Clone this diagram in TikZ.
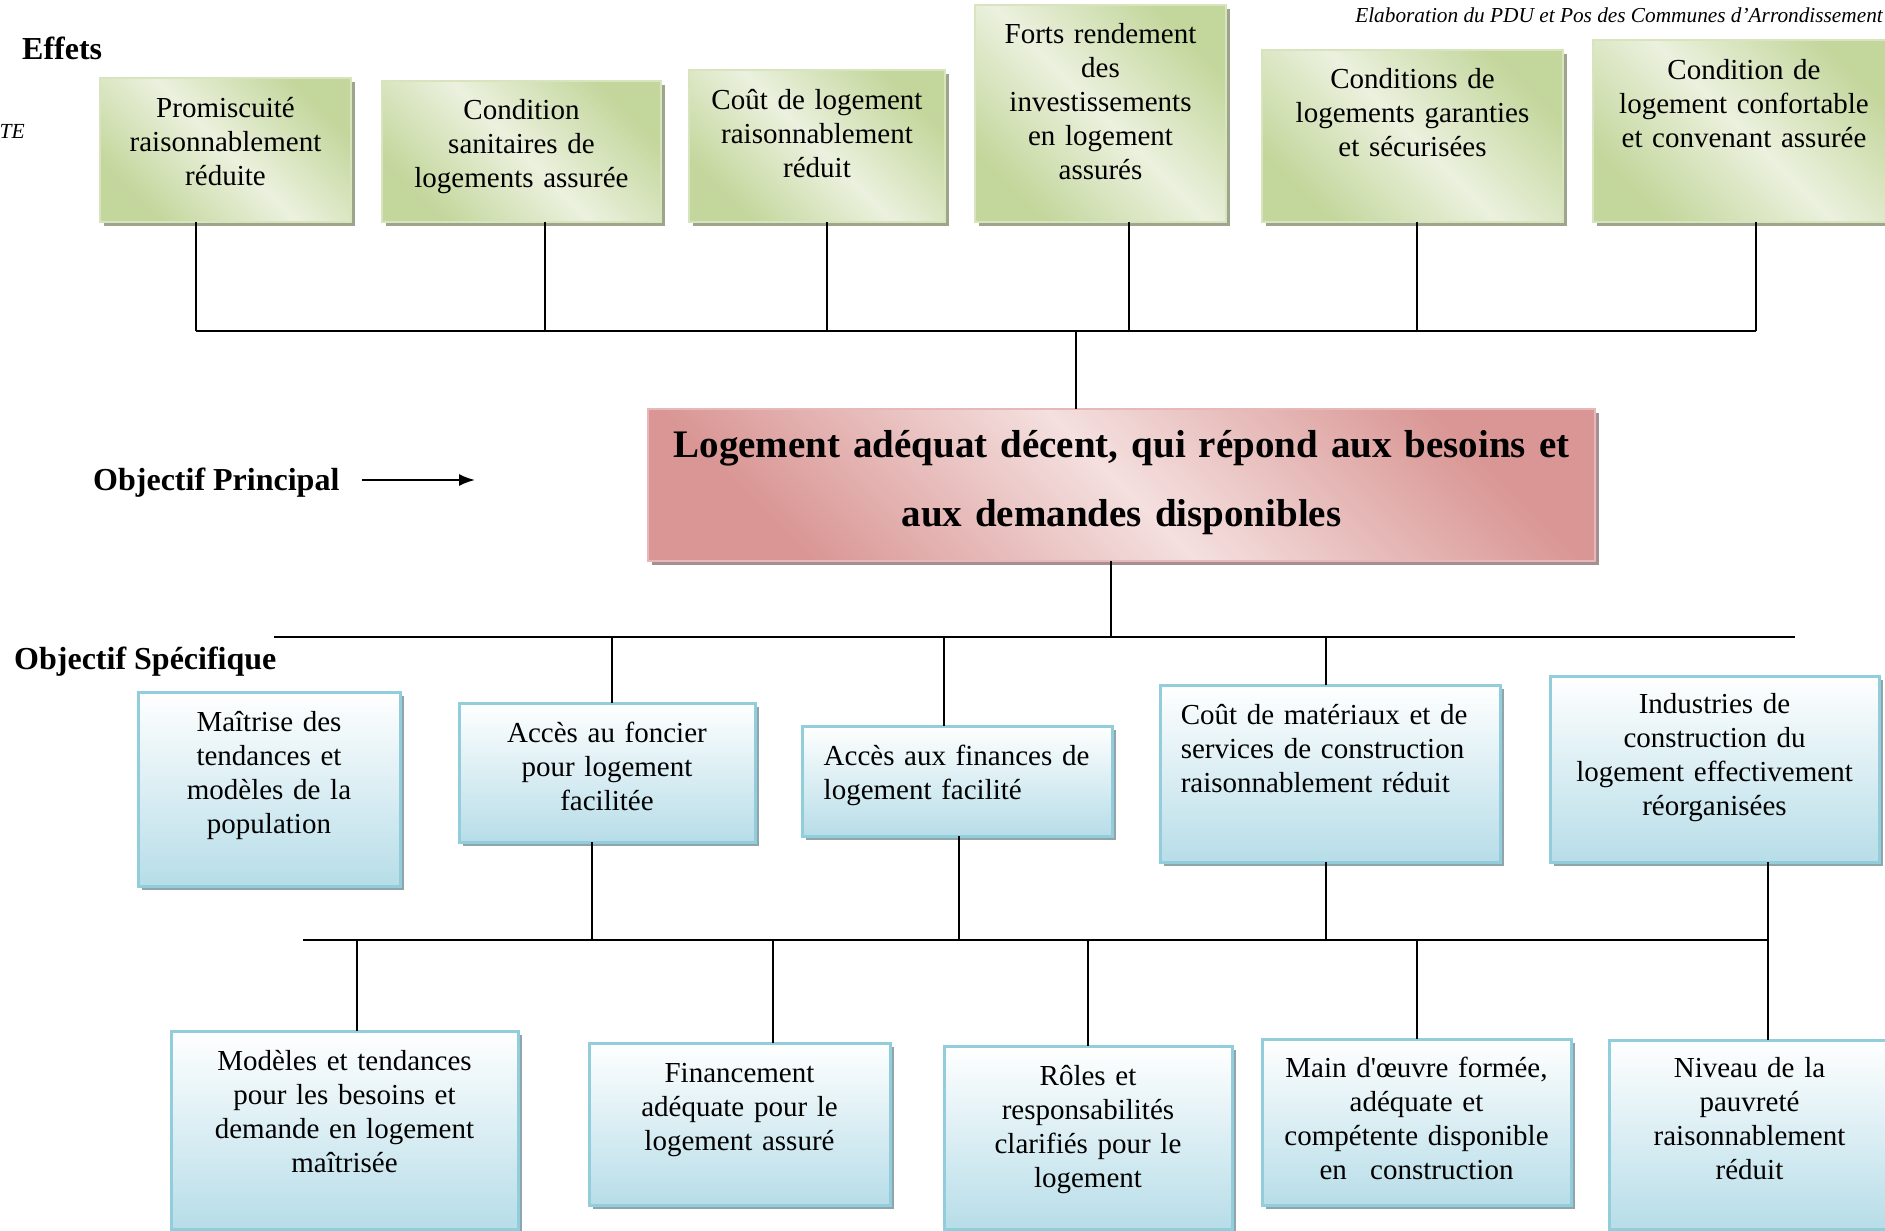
\documentclass[tikz,border=0pt]{standalone}
\usepackage{fontspec}
\setmainfont{Liberation Serif}
\usetikzlibrary{shadows,arrows.meta}

\definecolor{gdark}{HTML}{C3D69B}
\definecolor{glight}{HTML}{EBF1DE}
\definecolor{gline}{HTML}{D7E4BD}
\definecolor{gshadow}{HTML}{9DA58C}
\definecolor{rdark}{HTML}{D99694}
\definecolor{rlight}{HTML}{F4E0DF}
\definecolor{rline}{HTML}{E6B9B8}
\definecolor{rshadow}{HTML}{A58F93}
\definecolor{bdark}{HTML}{B7DDE8}
\definecolor{bline}{HTML}{92CDDC}
\definecolor{bshadow}{HTML}{8FA5AB}

\tikzset{
  box/.style={rectangle, inner sep=0pt, outer sep=0pt},
  greenbox/.style={box, draw=gline, line width=2.5pt,
    top color=gdark, bottom color=gdark, middle color=glight, shading angle=-45,
    general shadow={fill=gshadow, shadow xshift=4pt, shadow yshift=-4pt}},
  redbox/.style={box, draw=rline, line width=2.5pt,
    top color=rdark, bottom color=rdark, middle color=rlight, shading angle=-45,
    general shadow={fill=rshadow, shadow xshift=4pt, shadow yshift=-4pt}},
  bluebox/.style={box, draw=bline, line width=3pt,
    top color=white, bottom color=bdark,
    general shadow={fill=bshadow, shadow xshift=4pt, shadow yshift=-4pt}},
  boxtext/.style={inner sep=0pt, align=center, text width=#1, anchor=base,
    font=\fontsize{29}{34}\selectfont},
  boxtext/.default=340pt,
  lefttext/.style={inner sep=0pt, align=left, text width=#1, anchor=base west,
    font=\fontsize{29}{34}\selectfont},
  heading/.style={inner sep=0pt, anchor=base west,
    font=\fontsize{32}{36}\selectfont\bfseries},
  conn/.style={line width=2pt, black},
}

\begin{document}
\begin{tikzpicture}[x=1pt, y=-1pt]
% page
\fill[white] (0,0) rectangle (1885,1231);
\useasboundingbox (0,0) rectangle (1885,1231);

% side labels and running header
\node[inner sep=0pt, anchor=base east, font=\fontsize{21.3}{24}\selectfont\itshape] (hdr) at (1883,22.5)
  {Elaboration du PDU et Pos des Communes d’Arrondissement};
\node[inner sep=0pt, anchor=base east, font=\fontsize{21.5}{24}\selectfont\itshape] (te) at (25,138.5) {TE};
\node[heading] (effets) at (22,59.5) {Effets};
\node[heading] (objp) at (93,490) {Objectif Principal};
\node[heading] (objs) at (14,669.5) {Objectif Spécifique};
\coordinate (arrs) at (362,480);
\coordinate (arre) at (475,480);
\draw[line width=1.8pt, -{Latex[length=16pt,width=12pt]}] (arrs) -- (arre);

% effects
\node[greenbox, minimum width=251pt, minimum height=144pt] (g1) at (225.5,150) {};
\node[greenbox, minimum width=279pt, minimum height=141pt] (g2) at (521.5,151.5) {};
\node[greenbox, minimum width=256pt, minimum height=152pt] (g3) at (817,146) {};
\node[greenbox, minimum width=251pt, minimum height=217pt] (g4) at (1100.5,113.5) {};
\node[greenbox, minimum width=301pt, minimum height=172pt] (g5) at (1412.5,136) {};
\node[greenbox, minimum width=302pt, minimum height=182pt] (g6) at (1744,131) {};

\node[boxtext] (g1t) at (225.5,117.5) {Promiscuité\\raisonnablement\\réduite};
\node[boxtext] (g2t) at (521.5,119.5) {Condition\\sanitaires de\\logements assurée};
\node[boxtext] (g3t) at (817,109.5) {Coût de logement\\raisonnablement\\réduit};
\node[boxtext] (g4t) at (1100.5,43.5) {Forts rendement\\des\\investissements\\en logement\\assurés};
\node[boxtext] (g5t) at (1412.5,88.5) {Conditions de\\logements garanties\\et sécurisées};
\node[boxtext] (g6t) at (1744,79.5) {Condition de\\logement confortable\\et convenant assurée};

% main objective
\node[redbox, minimum width=947pt, minimum height=152pt] (main) at (1121.5,485) {};
\node[inner sep=0pt, align=center, text width=940pt, anchor=base,
  font=\fontsize{39}{69}\selectfont\bfseries] (maint) at (1121.5,457)
  {Logement adéquat décent, qui répond aux besoins et\\aux demandes disponibles};

% specific objectives
\node[bluebox, minimum width=262pt, minimum height=194pt] (b1) at (269,789) {};
\node[bluebox, minimum width=296pt, minimum height=139pt] (b2) at (607,772.5) {};
\node[bluebox, minimum width=310pt, minimum height=110pt] (b3) at (957,781) {};
\node[bluebox, minimum width=340pt, minimum height=177pt] (b4) at (1330,773.5) {};
\node[bluebox, minimum width=329pt, minimum height=186pt] (b5) at (1714.5,769) {};

\node[boxtext] (b1t) at (269,731.5) {Maîtrise des\\tendances et\\modèles de la\\population};
\node[boxtext] (b2t) at (607,742.5) {Accès au foncier\\pour logement\\facilitée};
\node[lefttext=280pt] (b3t) at (823.5,765.5)
  {\makebox[267pt][s]{Accès aux finances de}\\logement facilité};
\node[lefttext=310pt] (b4t) at (1180.6,724.5)
  {\makebox[298pt][s]{Coût de matériaux et de}\\\makebox[298pt][s]{services de construction}\\raisonnablement réduit};
\node[boxtext] (b5t) at (1714.5,713.5) {Industries de\\construction du\\logement effectivement\\réorganisées};

% results
\node[bluebox, minimum width=347pt, minimum height=198pt] (l1) at (344.5,1130) {};
\node[bluebox, minimum width=301pt, minimum height=162pt] (l2) at (739.5,1124) {};
\node[bluebox, minimum width=288pt, minimum height=183pt] (l3) at (1088,1137.5) {};
\node[bluebox, minimum width=309pt, minimum height=166pt] (l4) at (1416.5,1122) {};
\node[bluebox, minimum width=281pt, minimum height=189pt] (l5) at (1749.5,1134.5) {};

\node[boxtext] (l1t) at (344.5,1070.5) {Modèles et tendances\\pour les besoins et\\demande en logement\\maîtrisée};
\node[boxtext] (l2t) at (739.5,1082.5) {Financement\\adéquate pour le\\logement assuré};
\node[boxtext] (l3t) at (1088,1085.5) {Rôles et\\responsabilités\\clarifiés pour le\\logement};
\node[boxtext] (l4t) at (1416.5,1077.5) {Main d\textquotesingle œuvre formée,\\adéquate et\\compétente disponible\\\makebox[194pt]{en\hfill construction}};
\node[boxtext] (l5t) at (1749.5,1077.5) {Niveau de la\\pauvreté\\raisonnablement\\réduit};

% junctions
\coordinate (t1) at (196,331);
\coordinate (t2) at (545,331);
\coordinate (t3) at (827,331);
\coordinate (t4) at (1129,331);
\coordinate (t5) at (1417,331);
\coordinate (t6) at (1756,331);
\coordinate (tc) at (1076,331);

\coordinate (mc) at (1111,637);
\coordinate (mw) at (274,637);
\coordinate (me) at (1795,637);
\coordinate (m2) at (612,637);
\coordinate (m3) at (944,637);
\coordinate (m4) at (1326,637);

\coordinate (lw) at (303,940);
\coordinate (d2) at (591.5,940);
\coordinate (d3) at (959,940);
\coordinate (d4) at (1326,940);
\coordinate (le) at (1768,940);
\coordinate (e1) at (357,940);
\coordinate (e2) at (773,940);
\coordinate (e3) at (1088,940);
\coordinate (e4) at (1417,940);

% effects tree
\draw[conn] (t1) -- (t6);
\draw[conn] (g1.south -| t1) -- (t1);
\draw[conn] (g2.south -| t2) -- (t2);
\draw[conn] (g3.south -| t3) -- (t3);
\draw[conn] (g4.south -| t4) -- (t4);
\draw[conn] (g5.south -| t5) -- (t5);
\draw[conn] (g6.south -| t6) -- (t6);
\draw[conn] (tc) -- (tc |- main.north);

% specific objectives tree
\draw[conn] (main.south -| mc) -- (mc);
\draw[conn] (mw) -- (me);
\draw[conn] (m2) -- (m2 |- b2.north);
\draw[conn] (m3) -- (m3 |- b3.north);
\draw[conn] (m4) -- (m4 |- b4.north);

% results tree
\draw[conn] (lw) -- (le);
\draw[conn] (b2.south -| d2) -- (d2);
\draw[conn] (b3.south -| d3) -- (d3);
\draw[conn] (b4.south -| d4) -- (d4);
\draw[conn] (b5.south -| le) -- (le |- l5.north);
\draw[conn] (e1) -- (e1 |- l1.north);
\draw[conn] (e2) -- (e2 |- l2.north);
\draw[conn] (e3) -- (e3 |- l3.north);
\draw[conn] (e4) -- (e4 |- l4.north);
\end{tikzpicture}
\end{document}
